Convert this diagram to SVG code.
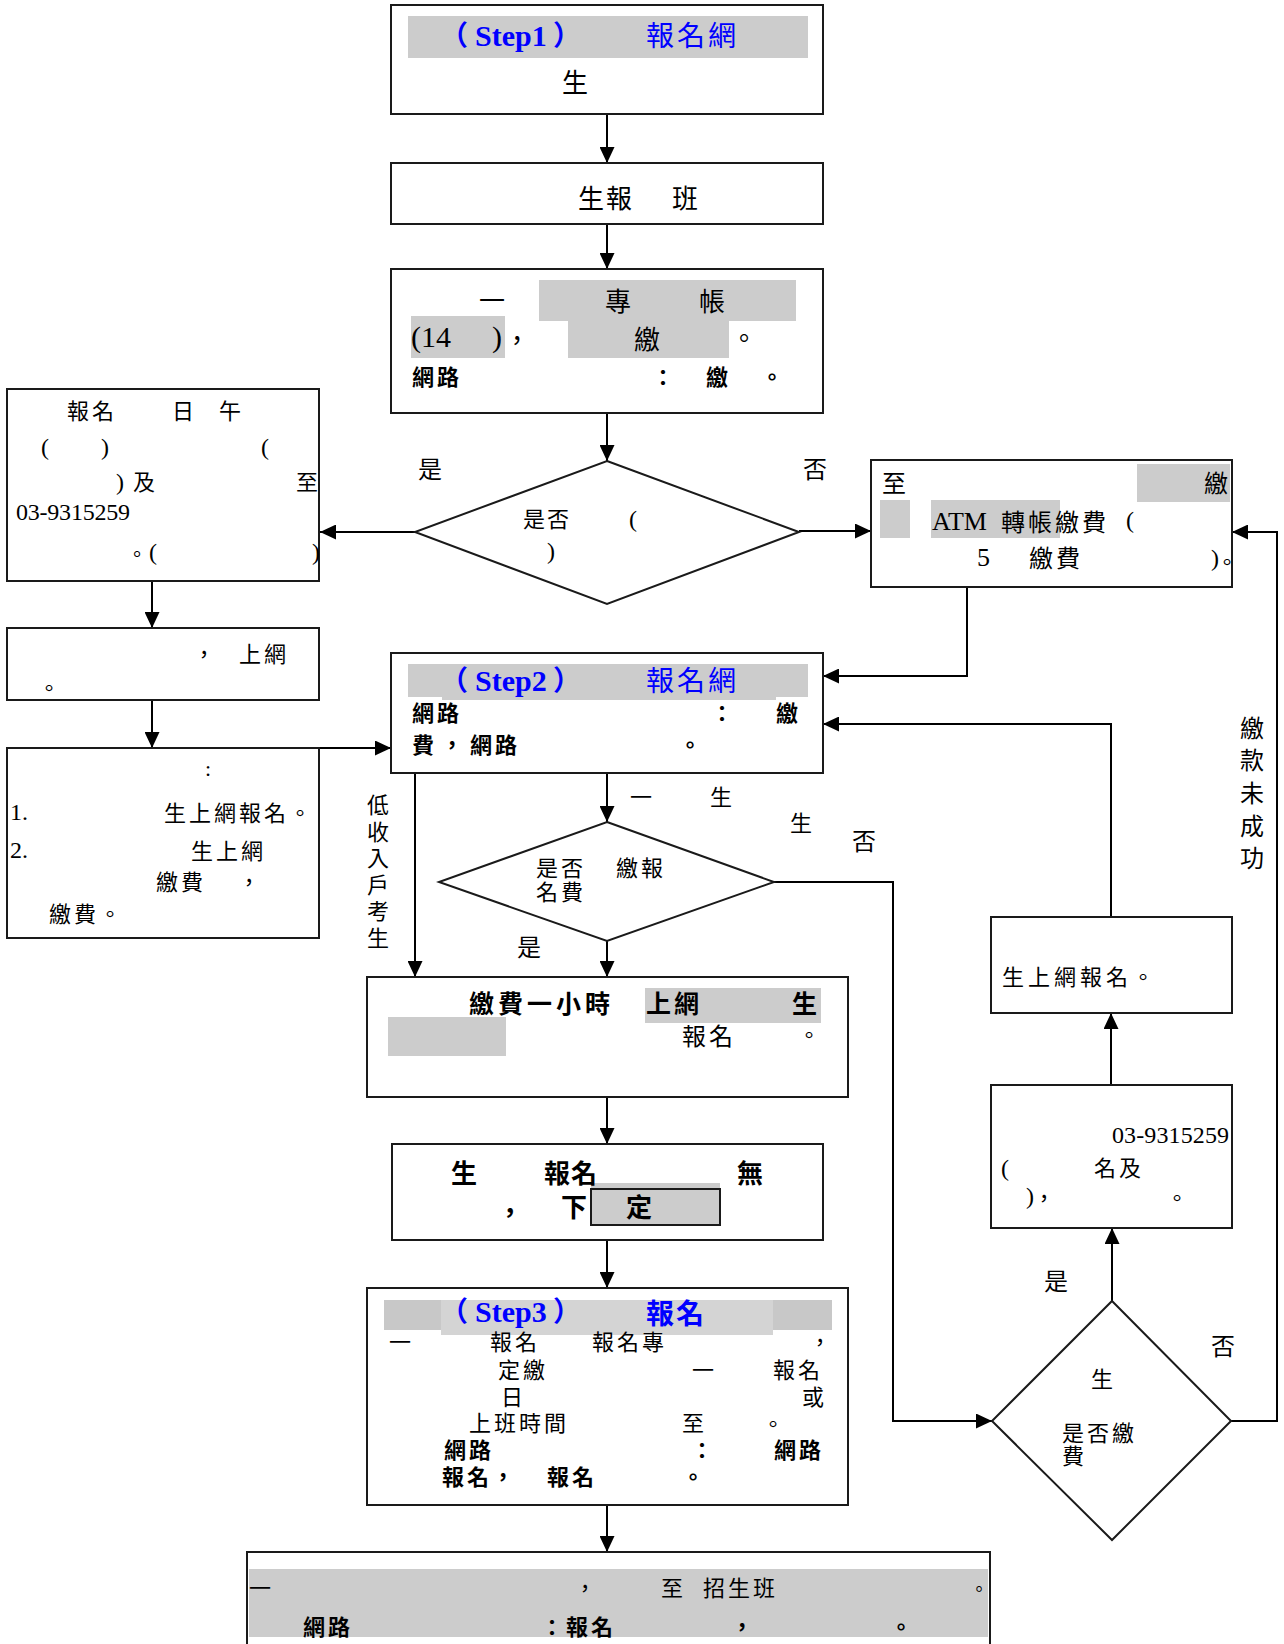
<svg xmlns="http://www.w3.org/2000/svg" width="1284" height="1644" viewBox="0 0 1284 1644">
<style>
.box{fill:#fff;stroke:#1a1a1a;stroke-width:2}
.g{fill:#cccccc}
.t{font-family:"Liberation Serif","Noto Sans CJK TC",serif;font-size:24px;fill:#000}
.s{font-size:22px}
.m{font-size:26px}
.b{font-weight:bold}
.blue{fill:#0000ff;font-size:28px}
.st{font-family:"Liberation Serif",serif;font-size:30px;font-weight:bold;fill:#0000ff}
.pr{font-family:"Noto Sans CJK TC",sans-serif;font-size:28px;fill:#0000ff}
.ls{letter-spacing:3px}
.ln{stroke:#000;stroke-width:2;fill:none}
</style>
<defs>
<marker id="a" markerUnits="userSpaceOnUse" markerWidth="16" markerHeight="15" refX="16" refY="7.5" orient="auto"><path d="M0,0 L16,7.5 L0,15 z" fill="#000"/></marker>
</defs>
<rect width="1284" height="1644" fill="#fff"/>

<g id="connectors">
<path class="ln" marker-end="url(#a)" d="M607,114 V163"/>
<path class="ln" marker-end="url(#a)" d="M607,224 V269"/>
<path class="ln" marker-end="url(#a)" d="M607,413 V461"/>
<path class="ln" marker-end="url(#a)" d="M415,532 H320"/>
<path class="ln" marker-end="url(#a)" d="M799,531 H871"/>
<path class="ln" marker-end="url(#a)" d="M152,581 V628"/>
<path class="ln" marker-end="url(#a)" d="M152,700 V748"/>
<path class="ln" marker-end="url(#a)" d="M319,748 H391"/>
<path class="ln" marker-end="url(#a)" d="M967,587 V676 H823"/>
<path class="ln" marker-end="url(#a)" d="M1111,917 V724 H823"/>
<path class="ln" marker-end="url(#a)" d="M607,773 V822"/>
<path class="ln" marker-end="url(#a)" d="M415,773 V977"/>
<path class="ln" marker-end="url(#a)" d="M607,941 V977"/>
<path class="ln" marker-end="url(#a)" d="M774,882 H893 V1421 H992"/>
<path class="ln" marker-end="url(#a)" d="M607,1097 V1144"/>
<path class="ln" marker-end="url(#a)" d="M607,1240 V1288"/>
<path class="ln" marker-end="url(#a)" d="M607,1505 V1552"/>
<path class="ln" marker-end="url(#a)" d="M1112,1301 V1228"/>
<path class="ln" marker-end="url(#a)" d="M1111,1085 V1013"/>
<path class="ln" marker-end="url(#a)" d="M1231,1421 H1277 V532 H1232"/>
<text class="t" x="418" y="478">是</text>
<text class="t" x="803" y="478">否</text>
<text class="t s" x="630" y="805">一</text>
<text class="t s" x="710" y="805">生</text>
<text class="t s" x="790" y="831">生</text>
<text class="t" x="852" y="850">否</text>
<text class="t" x="517" y="956">是</text>
<text class="t" x="1044" y="1290">是</text>
<text class="t" x="1211" y="1355">否</text>
<text class="t s"><tspan x="367" y="813">低</tspan><tspan x="367" y="840">收</tspan><tspan x="367" y="866">入</tspan><tspan x="367" y="893">戶</tspan><tspan x="367" y="919">考</tspan><tspan x="367" y="946">生</tspan></text>
<text class="t"><tspan x="1240" y="737">繳</tspan><tspan x="1240" y="769">款</tspan><tspan x="1240" y="802">未</tspan><tspan x="1240" y="835">成</tspan><tspan x="1240" y="867">功</tspan></text>
</g>

<g id="step1">
<rect class="box" x="391" y="5" width="432" height="109"/>
<rect class="g" x="408" y="16" width="400" height="42"/>
<text class="pr b" x="440" y="46">（</text>
<text class="st" x="475" y="46">Step1</text>
<text class="pr b" x="553" y="46">）</text>
<text class="t blue ls" x="646" y="46">報名網</text>
<text class="t m" x="562" y="92">生</text>
</g>

<g id="box2">
<rect class="box" x="391" y="163" width="432" height="61"/>
<text class="t m" x="578" y="208" letter-spacing="2">生報</text>
<text class="t m" x="672" y="208">班</text>
</g>

<g id="box3">
<rect class="box" x="391" y="269" width="432" height="144"/>
<rect class="g" x="539" y="280" width="257" height="41"/>
<rect class="g" x="411" y="316" width="94" height="42"/>
<rect class="g" x="568" y="316" width="161" height="42"/>
<text class="t m" x="479" y="310">一</text>
<text class="t m" x="605" y="311">專</text>
<text class="t m" x="699" y="311">帳</text>
<text class="t" x="411" y="347" style="font-size:30px">(14</text>
<text class="t" x="492" y="347" style="font-size:30px">)</text>
<text class="t m" x="504" y="350">，</text>
<text class="t m" x="634" y="349">繳</text>
<text class="t m" x="731" y="348">。</text>
<text class="t s b ls" x="412" y="385">網路</text>
<text class="t s b" x="652" y="385">：</text>
<text class="t s b" x="706" y="385">繳</text>
<text class="t s b" x="761" y="385">。</text>
</g>

<g id="box4">
<rect class="box" x="7" y="389" width="312" height="192"/>
<text class="t s ls" x="67" y="419">報名</text>
<text class="t s" x="172" y="419">日</text>
<text class="t s" x="219" y="419">午</text>
<text class="t" x="41" y="455">(</text>
<text class="t" x="101" y="455">)</text>
<text class="t" x="261" y="455">(</text>
<text class="t" x="116" y="490">)</text>
<text class="t s" x="133" y="490">及</text>
<text class="t s" x="296" y="490">至</text>
<text class="t" x="16" y="520" textLength="114">03-9315259</text>
<text class="t" x="127" y="562" style="font-size:20px">。</text>
<text class="t" x="149" y="560">(</text>
<text class="t" x="312" y="560">)</text>
</g>

<g id="decision1">
<polygon class="box" points="607,461 799,532 607,604 415,532"/>
<text class="t s" x="523" y="527" letter-spacing="2">是否</text>
<text class="t" x="629" y="527">(</text>
<text class="t" x="547" y="559">)</text>
</g>

<g id="box5">
<rect class="box" x="871" y="460" width="361" height="127"/>
<rect class="g" x="1137" y="464" width="93" height="38"/>
<rect class="g" x="880" y="500" width="30" height="38"/>
<rect class="g" x="931" y="500" width="129" height="38"/>
<text class="t" x="882" y="492">至</text>
<text class="t" x="1204" y="492">繳</text>
<text class="t" x="932" y="530" style="font-size:26px">ATM</text>
<text class="t" x="1001" y="531" letter-spacing="3">轉帳繳費</text>
<text class="t" x="1126" y="528">(</text>
<text class="t" x="977" y="566" style="font-size:26px">5</text>
<text class="t" x="1029" y="567" letter-spacing="3">繳費</text>
<text class="t" x="1211" y="566">)</text>
<text class="t s" x="1216" y="570">。</text>
</g>

<g id="box6">
<rect class="box" x="7" y="628" width="312" height="72"/>
<text class="t s" x="193" y="662">，</text>
<text class="t s ls" x="239" y="662">上網</text>
<text class="t s" x="38" y="696">。</text>
</g>

<g id="box7">
<rect class="box" x="7" y="748" width="312" height="190"/>
<text class="t s" x="205" y="776">:</text>
<text class="t" x="10" y="820">1.</text>
<text class="t s ls" x="164" y="821">生上網報名。</text>
<text class="t" x="10" y="858">2.</text>
<text class="t s ls" x="191" y="859">生上網</text>
<text class="t s ls" x="156" y="890">繳費</text>
<text class="t s" x="238" y="890">，</text>
<text class="t s ls" x="49" y="922">繳費。</text>
</g>

<g id="step2">
<rect class="box" x="391" y="653" width="432" height="120"/>
<rect class="g" x="408" y="664" width="400" height="33"/>
<rect class="g" x="442" y="697" width="334" height="3"/>
<text class="pr b" x="440" y="691">（</text>
<text class="st" x="475" y="691">Step2</text>
<text class="pr b" x="553" y="691">）</text>
<text class="t blue ls" x="646" y="691">報名網</text>
<text class="t s b ls" x="412" y="721">網路</text>
<text class="t s b" x="711" y="721">：</text>
<text class="t s b" x="776" y="721">繳</text>
<text class="t s b" x="412" y="753">費</text>
<text class="t s b" x="441" y="753">，</text>
<text class="t s b ls" x="470" y="753">網路</text>
<text class="t s b" x="679" y="753">。</text>
</g>

<g id="decision2">
<polygon class="box" points="607,822 774,882 607,941 439,882"/>
<text class="t s ls" x="536" y="876">是否</text>
<text class="t s ls" x="536" y="900">名費</text>
<text class="t s ls" x="616" y="876">繳報</text>
</g>

<g id="box8">
<rect class="box" x="367" y="977" width="481" height="120"/>
<rect class="g" x="645" y="988" width="176" height="35"/>
<rect class="g" x="388" y="1017" width="118" height="39"/>
<text class="t b" x="469" y="1013" style="font-size:25px" letter-spacing="4">繳費一小時</text>
<text class="t b ls" x="646" y="1013" style="font-size:25px">上網</text>
<text class="t b" x="792" y="1013" style="font-size:25px">生</text>
<text class="t ls" x="682" y="1045">報名</text>
<text class="t s" x="798" y="1043">。</text>
</g>

<g id="box9">
<rect class="box" x="392" y="1144" width="431" height="96"/>
<rect class="g" x="591" y="1183" width="129" height="42"/>
<rect fill="none" stroke="#1a1a1a" stroke-width="2" x="591" y="1189" width="129" height="36"/>
<text class="t m b" x="451" y="1183">生</text>
<text class="t m b" x="544" y="1183" letter-spacing="1">報名</text>
<text class="t m b" x="737" y="1183">無</text>
<text class="t m b" x="497" y="1222">，</text>
<text class="t m b" x="561" y="1217">下</text>
<text class="t m b" x="626" y="1217">定</text>
</g>

<g id="step3">
<rect class="box" x="367" y="1288" width="481" height="217"/>
<rect x="384" y="1300" width="448" height="30" fill="#c8c8c8"/>
<rect x="441" y="1300" width="332" height="35" fill="#d4d4d4"/>
<text class="pr b" x="440" y="1322">（</text>
<text class="st" x="475" y="1322">Step3</text>
<text class="pr b" x="553" y="1322">）</text>
<text class="t b blue" x="646" y="1324" letter-spacing="2">報名</text>
<text class="t s" x="389" y="1350">一</text>
<text class="t s ls" x="490" y="1350">報名</text>
<text class="t s ls" x="592" y="1350">報名專</text>
<text class="t s" x="809" y="1350">，</text>
<text class="t s ls" x="498" y="1378">定繳</text>
<text class="t s" x="692" y="1378">一</text>
<text class="t s ls" x="773" y="1378">報名</text>
<text class="t s" x="501" y="1405">日</text>
<text class="t s" x="802" y="1405">或</text>
<text class="t s ls" x="469" y="1431">上班時間</text>
<text class="t s" x="682" y="1431">至</text>
<text class="t s" x="762" y="1432">。</text>
<text class="t s b ls" x="444" y="1458">網路</text>
<text class="t s b" x="691" y="1458">：</text>
<text class="t s b ls" x="774" y="1458">網路</text>
<text class="t s b ls" x="442" y="1485">報名，</text>
<text class="t s b ls" x="547" y="1485">報名</text>
<text class="t s b" x="682" y="1485">。</text>
</g>

<g id="box10">
<rect class="box" x="247" y="1552" width="743" height="120"/>
<rect class="g" x="249" y="1569" width="739" height="68"/>
<text class="t s" x="249" y="1596">一</text>
<text class="t s" x="574" y="1596">，</text>
<text class="t s" x="661" y="1596">至</text>
<text class="t s ls" x="703" y="1596">招生班</text>
<text class="t" x="970" y="1596" style="font-size:18px">。</text>
<text class="t s b ls" x="303" y="1635">網路</text>
<text class="t s b ls" x="541" y="1635">：報名</text>
<text class="t s b" x="731" y="1635">，</text>
<text class="t s b" x="890" y="1635">。</text>
</g>

<g id="box11">
<rect class="box" x="991" y="917" width="241" height="96"/>
<text class="t s" x="1002" y="985" letter-spacing="4">生上網報名。</text>
</g>

<g id="box12">
<rect class="box" x="991" y="1085" width="241" height="143"/>
<text class="t" x="1112" y="1143" textLength="117">03-9315259</text>
<text class="t" x="1001" y="1176">(</text>
<text class="t s ls" x="1094" y="1176">名及</text>
<text class="t" x="1026" y="1204">)</text>
<text class="t s" x="1033" y="1206">，</text>
<text class="t s" x="1166" y="1206">。</text>
</g>

<g id="decision3">
<polygon class="box" points="1112,1301 1231,1421 1112,1540 992,1421"/>
<text class="t s" x="1091" y="1387">生</text>
<text class="t s ls" x="1062" y="1441">是否繳</text>
<text class="t s" x="1062" y="1464">費</text>
</g>
</svg>
